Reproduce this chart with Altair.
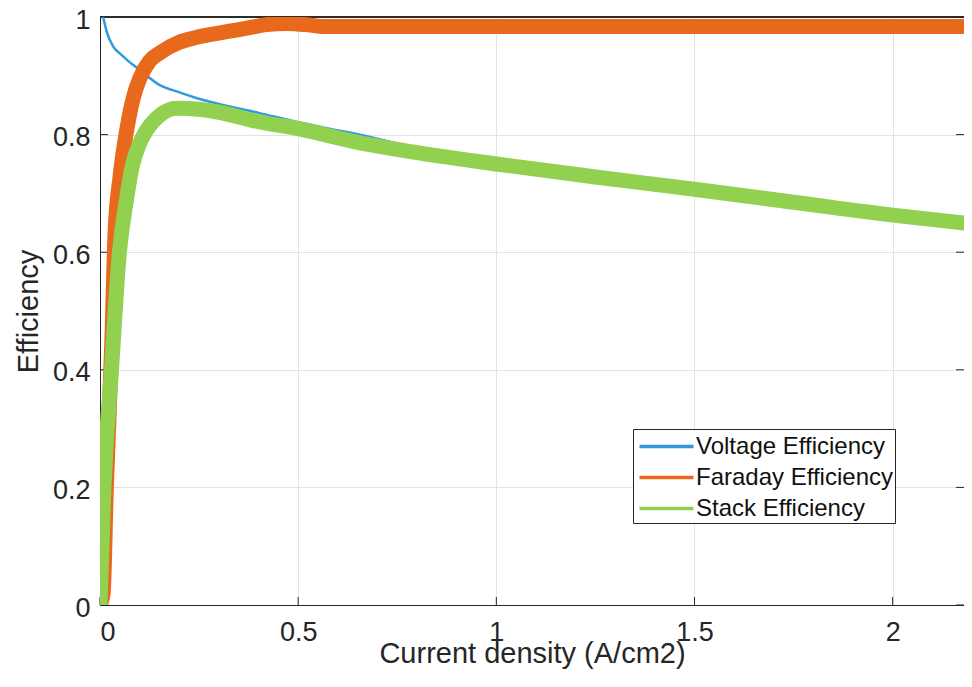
import altair as alt
import pandas as pd

series_names = ["Voltage Efficiency", "Faraday Efficiency", "Stack Efficiency"]
series_colors = ["#3399DD", "#E8691B", "#92D050"]

voltage_x = [0.008, 0.017, 0.033, 0.05, 0.068, 0.1, 0.151, 0.2, 0.235, 0.318, 0.4,
             0.487, 0.572, 0.656, 0.757, 0.9, 1.0, 1.25, 1.5, 1.75, 2.0, 2.19]
voltage_y = [1.0, 0.975, 0.95, 0.938, 0.927, 0.91, 0.884, 0.872, 0.864, 0.849, 0.837,
             0.823, 0.811, 0.80, 0.784, 0.768, 0.756, 0.734, 0.712, 0.690, 0.668, 0.654]

faraday_x = [0, 0.008, 0.016, 0.03, 0.038, 0.05, 0.068, 0.085, 0.1, 0.125, 0.151, 0.2,
             0.235, 0.32, 0.37, 0.42, 0.47, 0.52, 0.56, 0.7, 1.0, 1.5, 2.0, 2.19]
faraday_y = [0, 0.02, 0.2, 0.45, 0.633, 0.725, 0.81, 0.865, 0.895, 0.925, 0.939, 0.957,
             0.964, 0.975, 0.981, 0.987, 0.989, 0.987, 0.984, 0.984, 0.984, 0.984, 0.984, 0.984]

stack_x = [0, 0.01, 0.029, 0.049, 0.067, 0.081, 0.1, 0.118, 0.151, 0.194, 0.25, 0.3,
           0.4, 0.5, 0.656, 0.757, 1.0, 1.25, 1.5, 1.75, 2.0, 2.19]
stack_y = [0, 0.2, 0.4, 0.6, 0.69, 0.745, 0.785, 0.808, 0.833, 0.845, 0.843, 0.838,
           0.822, 0.81, 0.786, 0.774, 0.75, 0.728, 0.707, 0.685, 0.663, 0.649]

x_ticks = [0, 0.5, 1, 1.5, 2]
y_ticks = [0, 0.2, 0.4, 0.6, 0.8, 1]

W, H = 864, 588
FONT = "Liberation Sans"
TXT = "#262626"

rows = []
for name, xs, ys in zip(series_names, [voltage_x, faraday_x, stack_x],
                        [voltage_y, faraday_y, stack_y]):
    for i, (xv, yv) in enumerate(zip(xs, ys)):
        rows.append({"series": name, "x": xv, "y": yv, "idx": i})
df = pd.DataFrame(rows)

xscale = alt.Scale(domain=[0, 2.18], nice=False, zero=False)
yscale = alt.Scale(domain=[0, 1], nice=False)

xaxis = alt.Axis(values=x_ticks, format="~g", ticks=False, grid=True,
                 gridColor="#E3E3E3", gridWidth=1, domainColor=TXT, domainWidth=1,
                 labelFont=FONT, labelFontSize=27, labelColor=TXT,
                 labelBaseline="alphabetic", labelPadding=35,
                 title="Current density (A/cm2)", titleFont=FONT, titleFontSize=29,
                 titleFontWeight="normal", titleColor=TXT,
                 titleBaseline="alphabetic", titleY=57, titleX=W / 2)
yaxis = alt.Axis(values=y_ticks, format="~g", ticks=False, grid=True,
                 gridColor="#E3E3E3", gridWidth=1, domainColor=TXT, domainWidth=1,
                 labelFont=FONT, labelFontSize=27, labelColor=TXT, labelPadding=10,
                 labelOffset=3,
                 title="Efficiency", titleFont=FONT, titleFontSize=29,
                 titleFontWeight="normal", titleColor=TXT, titleAngle=270,
                 titleBaseline="alphabetic", titleX=-63, titleY=H / 2)

legend = alt.Legend(title=None, orient="none", legendX=533, legendY=412,
                    symbolType="M-2,0H2", symbolSize=729, symbolStrokeWidth=3.5,
                    symbolOffset=16, labelOffset=14,
                    labelFont=FONT, labelFontSize=24, labelColor="#111111",
                    labelLimit=400, strokeColor=TXT, fillColor="white",
                    padding=2, rowPadding=3, cornerRadius=0)

color_scale = alt.Scale(domain=series_names, range=series_colors)


def line_layer(name, width):
    return alt.Chart(df).transform_filter(alt.datum.series == name).mark_line(
        strokeWidth=width, clip=True, strokeCap="butt", strokeJoin="round",
        interpolate="monotone"
    ).encode(
        x=alt.X("x:Q", scale=xscale, axis=xaxis),
        y=alt.Y("y:Q", scale=yscale, axis=yaxis),
        color=alt.Color("series:N", scale=color_scale, legend=legend),
        order="idx:Q",
    )


xt = pd.DataFrame({"t": x_ticks})
yt = pd.DataFrame({"t": y_ticks})

x_tick_marks = alt.Chart(xt).mark_rule(color=TXT, strokeWidth=1).encode(
    x=alt.X("t:Q", scale=xscale, axis=xaxis), y=alt.value(H), y2=alt.value(H - 8))
y_tick_left = alt.Chart(yt).mark_rule(color=TXT, strokeWidth=1).encode(
    y=alt.Y("t:Q", scale=yscale, axis=yaxis), x=alt.value(0), x2=alt.value(8))
y_tick_right = alt.Chart(yt).mark_rule(color=TXT, strokeWidth=1).encode(
    y=alt.Y("t:Q", scale=yscale, axis=yaxis), x=alt.value(W - 8), x2=alt.value(W))
top_border = alt.Chart(xt).mark_rule(color=TXT, strokeWidth=1).encode(
    x=alt.value(0), x2=alt.value(W), y=alt.value(0))

chart = alt.layer(
    x_tick_marks, y_tick_left, y_tick_right, top_border,
    line_layer(series_names[0], 2.5),
    line_layer(series_names[1], 15),
    line_layer(series_names[2], 15),
).properties(
    width=W, height=H,
    autosize=alt.AutoSizeParams(type="none"),
    padding={"left": 92, "top": 9, "right": 0, "bottom": 74},
    background="white",
).configure_view(stroke=None)

chart.save("out.html", embed_options={"renderer": "svg", "actions": False})
